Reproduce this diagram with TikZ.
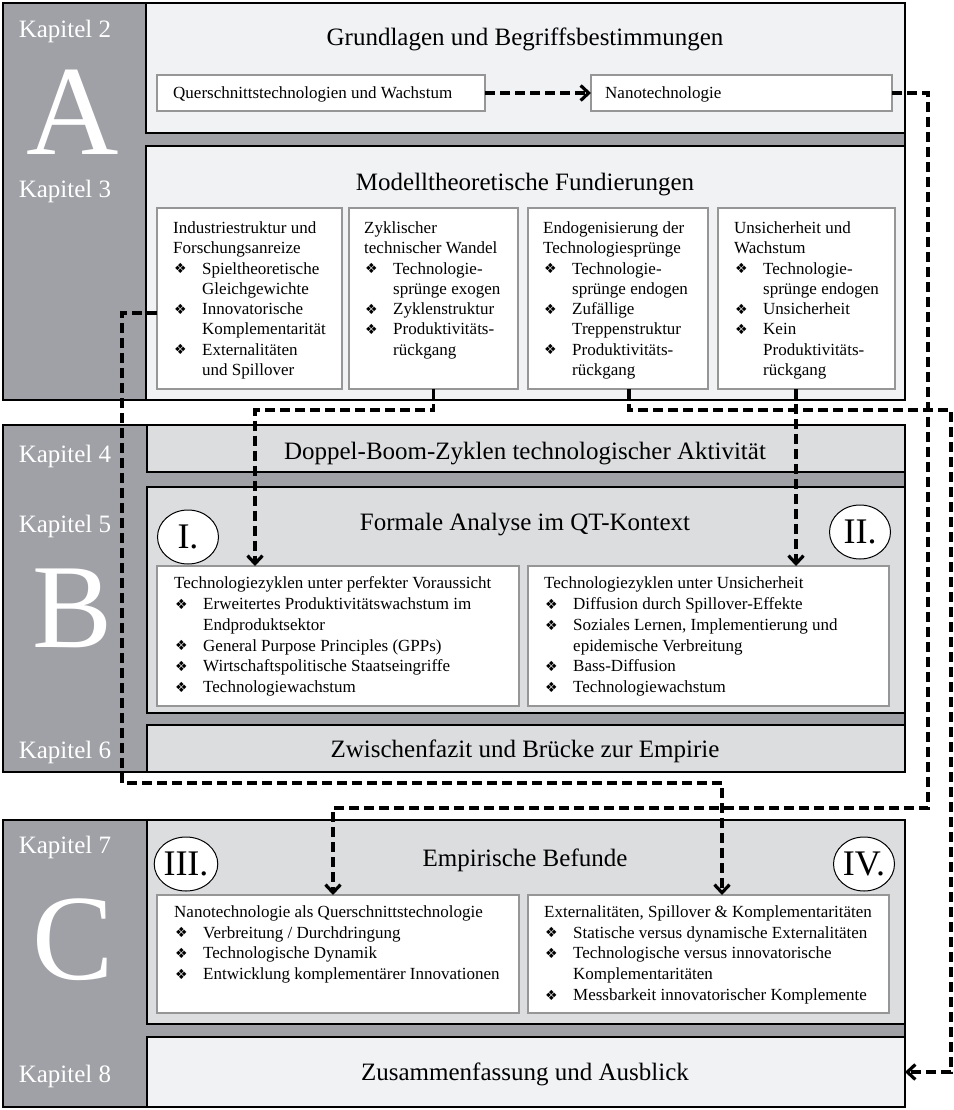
\documentclass[tikz,border=0pt]{standalone}
\usepackage{fontspec}
\setmainfont{Liberation Serif}
\newfontfamily\dejavu{DejaVu Sans}
\usetikzlibrary{arrows.meta,shapes.geometric,calc,fit}
\definecolor{colDark}{RGB}{160,161,166}
\definecolor{colLight}{RGB}{241,242,244}
\definecolor{colMid}{RGB}{220,221,223}
\definecolor{colBorder}{RGB}{150,150,150}
\newcommand{\bul}{\hspace*{1pt}\makebox[28pt][l]{\raisebox{0.3pt}{\dejavu\fontsize{14}{14}\selectfont ❖}}}
\newcommand{\ind}{\hspace*{29pt}}
\begin{document}
\begin{tikzpicture}[x=1pt,y=-1pt,
  secbg/.style={draw=black, line width=2pt, fill=colDark, inner sep=0pt, outer sep=0pt},
  lightbox/.style={draw=black, line width=1.8pt, fill=colLight, inner sep=0pt, outer sep=0pt},
  midbox/.style={draw=black, line width=1.8pt, fill=colMid, inner sep=0pt, outer sep=0pt},
  ibox/.style={draw=colBorder, line width=2pt, fill=white, inner sep=0pt, outer sep=0pt},
  kap/.style={text=white, font=\fontsize{25}{25}\selectfont, anchor=base, inner sep=0pt},
  big/.style={text=white, anchor=base, inner sep=0pt, text depth=0pt},
  title/.style={font=\fontsize{25}{25}\selectfont, anchor=base, inner sep=0pt},
  body/.style={font=\fontsize{17}{20.3}\selectfont, align=left, anchor=north west, inner sep=0pt},
  bodyB/.style={font=\fontsize{17}{20.8}\selectfont, align=left, anchor=north west, inner sep=0pt},
  single/.style={font=\fontsize{17}{20}\selectfont, anchor=base west, inner sep=0pt},
  num/.style={ellipse, draw=black, line width=1pt, fill=white, inner sep=0pt, minimum width=61pt, minimum height=54pt, font=\fontsize{36}{36}\selectfont},
  conn/.style={line width=3.2pt, dash pattern=on 10pt off 5pt},
  arr/.style={-{Straight Barb[length=8pt,width=15pt]}}
]
\useasboundingbox (0,0) rectangle (953,1110);
\fill[white] (0,0) rectangle (953,1110);

% ---------- Section A ----------
\node[secbg, fit={(3,3)(905,400)}] (secA) {};
\node[lightbox, fit={(146,3)(905,133)}] (k2) {};
\node[lightbox, fit={(146,146)(905,400)}] (k3) {};
\node[kap] (lk2) at (65,38) {Kapitel 2};
\node[kap] (lk3) at (65,197) {Kapitel 3};
\node[big, font=\fontsize{128}{128}\selectfont] (lA) at (73,155) {A};
\node[title] (tk2) at (525,46) {Grundlagen und Begriffsbestimmungen};
\node[title] (tk3) at (525,190) {Modelltheoretische Fundierungen};

\node[ibox, fit={(157,75)(485,111)}] (qs) {};
\node[ibox, fit={(591,75)(892,111)}] (nano) {};
\node[single] (tqs) at (173,99) {Querschnittstechnologien und Wachstum};
\node[single] (tnano) at (605,99) {Nanotechnologie};

\node[ibox, fit={(157,208)(342,389)}] (b1) {};
\node[ibox, fit={(349,208)(518,389)}] (b2) {};
\node[ibox, fit={(528,208)(708,389)}] (b3) {};
\node[ibox, fit={(718,208)(895,389)}] (b4) {};

\node[body] (tb1) at ($(b1.north west)+(16,11)$) {\strut Industriestruktur und\\ Forschungsanreize\\ \bul Spieltheoretische\\ \ind Gleichgewichte\\ \bul Innovatorische\\ \ind Komplementarität\\ \bul Externalitäten\\ \ind und Spillover};
\node[body] (tb2) at ($(b2.north west)+(15,11)$) {\strut Zyklischer\\ technischer Wandel\\ \bul Technologie-\\ \ind sprünge exogen\\ \bul Zyklenstruktur\\ \bul Produktivitäts-\\ \ind rückgang};
\node[body] (tb3) at ($(b3.north west)+(15,11)$) {\strut Endogenisierung der\\ Technologiesprünge\\ \bul Technologie-\\ \ind sprünge endogen\\ \bul Zufällige\\ \ind Treppenstruktur\\ \bul Produktivitäts-\\ \ind rückgang};
\node[body] (tb4) at ($(b4.north west)+(16,11)$) {\strut Unsicherheit und\\ Wachstum\\ \bul Technologie-\\ \ind sprünge endogen\\ \bul Unsicherheit\\ \bul Kein\\ \ind Produktivitäts-\\ \ind rückgang};

% ---------- Section B ----------
\node[secbg, fit={(3,425)(905,772)}] (secB) {};
\node[midbox, fit={(147,425)(905,472)}] (k4) {};
\node[midbox, fit={(147,487)(905,713)}] (k5) {};
\node[midbox, fit={(147,725)(905,772)}] (k6) {};
\node[kap] (lk4) at (65,462) {Kapitel 4};
\node[kap] (lk5) at (65,532) {Kapitel 5};
\node[kap] (lk6) at (65,758) {Kapitel 6};
\node[big, font=\fontsize{120}{120}\selectfont] (lB) at (73,647) {B};
\node[title] (tk4) at (525,459) {Doppel-Boom-Zyklen technologischer Aktivität};
\node[title] (tk5) at (525,530) {Formale Analyse im QT-Kontext};
\node[title] (tk6) at (525,757) {Zwischenfazit und Brücke zur Empirie};

\node[num] (nI) at (188,537) {I.};
\node[num] (nII) at (860,532) {II.};

\node[ibox, fit={(157,566)(519,706)}] (bI) {};
\node[ibox, fit={(528,566)(889,706)}] (bII) {};
\node[bodyB] (tbI) at ($(bI.north west)+(17,8)$) {\strut Technologiezyklen unter perfekter Voraussicht\\ \bul Erweitertes Produktivitätswachstum im\\ \ind Endproduktsektor\\ \bul General Purpose Principles (GPPs)\\ \bul Wirtschaftspolitische Staatseingriffe\\ \bul Technologiewachstum};
\node[bodyB] (tbII) at ($(bII.north west)+(16,8)$) {\strut Technologiezyklen unter Unsicherheit\\ \bul Diffusion durch Spillover-Effekte\\ \bul Soziales Lernen, Implementierung und\\ \ind epidemische Verbreitung\\ \bul Bass-Diffusion\\ \bul Technologiewachstum};

% ---------- Section C ----------
\node[secbg, fit={(3,820)(905,1107)}] (secC) {};
\node[midbox, fit={(147,820)(905,1024)}] (k7) {};
\node[lightbox, fit={(147,1037)(905,1107)}] (k8) {};
\node[kap] (lk7) at (65,853) {Kapitel 7};
\node[kap] (lk8) at (65,1082) {Kapitel 8};
\node[big, font=\fontsize{122}{122}\selectfont] (lC) at (73,979) {C};
\node[title] (tk7) at (525,866) {Empirische Befunde};
\node[title] (tk8) at (525,1080) {Zusammenfassung und Ausblick};

\node[num] (nIII) at (186,864) {III.};
\node[num] (nIV) at (864,864) {IV.};

\node[ibox, fit={(157,895)(519,1013)}] (bIII) {};
\node[ibox, fit={(528,895)(889,1013)}] (bIV) {};
\node[bodyB] (tbIII) at ($(bIII.north west)+(17,7.5)$) {\strut Nanotechnologie als Querschnittstechnologie\\ \bul Verbreitung / Durchdringung\\ \bul Technologische Dynamik\\ \bul Entwicklung komplementärer Innovationen};
\node[bodyB] (tbIV) at ($(bIV.north west)+(16,7.5)$) {\strut Externalitäten, Spillover \& Komplementaritäten\\ \bul Statische versus dynamische Externalitäten\\ \bul Technologische versus innovatorische\\ \ind Komplementaritäten\\ \bul Messbarkeit innovatorischer Komplemente};

% ---------- Connectors ----------
\draw[conn,arr] (qs.east) -- (nano.west);

\coordinate (n1) at (928,93);
\coordinate (n2) at (928,808);
\coordinate (n3) at (333,808);
\draw[conn,arr] (nano.east) -- (n1) -- (n2) -- (n3) -- (bIII.north -| n3);

\coordinate (i1) at (122,313);
\coordinate (i2) at (122,783);
\coordinate (i3) at (722,783);
\draw[conn,arr] (b1.west |- i1) -- (i1) -- (i2) -- (i3) -- (bIV.north -| i3);

\coordinate (z2) at (255,410);
\draw[conn,arr] (b2.south) -- (b2.south |- z2) -- (z2) -- (bI.north -| z2);

\coordinate (e1) at (629,410);
\coordinate (e2) at (951,410);
\draw[conn,arr] (b3.south -| e1) -- (e1) -- (e2) -- (e2 |- k8.east) -- (k8.east);

\coordinate (u0) at (796,410);
\draw[conn,arr] (b4.south -| u0) -- (bII.north -| u0);
\end{tikzpicture}
\end{document}
